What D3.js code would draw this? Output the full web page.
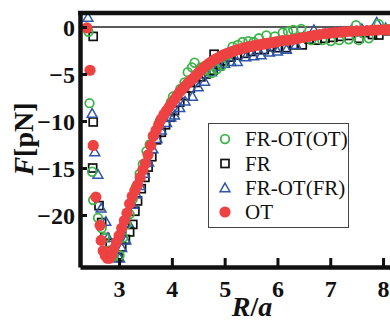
<!DOCTYPE html>
<html><head><meta charset="utf-8">
<script src="https://cdn.jsdelivr.net/npm/d3@7"></script>
<style>body{margin:0;background:#fff}svg{display:block}
svg text{font-family:"Liberation Serif","Times New Roman",serif;}
</style>
</head><body>
<svg id="c" width="390" height="322"></svg>
<script>
// ---- data ----
const seriesNames = ["FR-OT(OT)", "FR", "FR-OT(FR)", "OT"];
const xTicks = [3, 4, 5, 6, 7, 8];
const yTicks = [0, -5, -10, -15, -20];

// FR-OT(OT): [R/a, F]
const frotOT = [[2.42,-0.5],[2.44,-8.1],[2.49,-15.4],[2.51,-18.4],[2.60,-20.3],[2.67,-21.4],[2.73,-22.4],[2.80,-23.8],[2.90,-24.4],[3.01,-24.3],
[3.08,-22.4],[3.14,-21.0],[3.20,-19.9],[3.26,-18.3],[3.32,-17.0],[3.39,-15.6],[3.45,-14.6],[3.52,-13.2],[3.58,-12.5],[3.64,-11.6],[3.70,-11.0],[3.77,-10.0],[3.84,-9.5],[3.92,-8.8],[3.98,-8.0],[4.02,-7.4],[4.10,-7.2],[4.16,-6.6],[4.24,-5.9],[4.30,-4.8],[4.38,-4.3],[4.43,-3.8],
[4.55,-4.3],[4.65,-4.6],[4.75,-4.9],[4.85,-4.5],[4.95,-4.1],[5.05,-3.0],[5.15,-2.1],[5.25,-1.9],[5.34,-1.6],[5.45,-1.5],[5.55,-1.6],[5.65,-1.2],[5.79,-0.9],[5.95,-1.0],[6.10,-0.6],[6.20,-0.5],[6.30,-0.3],[6.45,-0.2],[6.64,-1.4],[6.85,-1.4],[7.01,-1.5],[7.17,-1.4],[7.35,-1.3],[7.49,0.2],[7.54,-1.4],[7.73,-1.2],[7.92,0.3],[8.05,-0.2]];

// FR: [R/a, F]
const fr = [[2.51,-1.0],[2.51,-10.1],[2.50,-15.0],[2.62,-19.0],[2.67,-20.8],[2.73,-22.4],[2.83,-23.0],[2.90,-24.0],
[2.98,-24.5],[3.05,-23.4],[3.12,-22.6],[3.20,-21.8],[3.26,-21.0],[3.30,-19.6],[3.35,-18.5],[3.42,-17.2],[3.49,-16.0],[3.55,-14.9],[3.62,-13.8],[3.71,-12.0],[3.80,-11.2],[3.88,-10.4],[3.97,-9.6],[4.05,-8.9],[4.15,-8.0],[4.25,-7.3],[4.35,-6.5],[4.45,-5.9],[4.55,-5.3],[4.65,-5.0],[4.80,-2.9],[4.78,-4.6],[4.90,-4.0],[5.00,-3.6],[5.12,-3.2],[5.24,-3.0],[5.38,-2.8],[5.50,-2.6],[5.62,-2.4],[5.75,-2.4],[5.88,-2.1],[6.00,-2.2],[6.17,-2.2],[6.30,-1.9],[6.47,-1.9],[6.60,-1.3],[6.75,-1.4],[6.90,-1.2],[7.05,-1.1],[7.20,-1.0],[7.35,-0.9],[7.54,-1.2],[7.65,-0.6],[7.80,-0.8],[7.92,-0.85],[8.10,-0.4]];

// FR-OT(FR): [R/a, F]
const frotFR = [[2.41,1.0],[2.49,-9.2],[2.54,-13.3],[2.60,-15.7],[2.66,-19.3],[2.75,-20.7],[2.79,-22.4],[2.88,-23.6],[3.01,-24.6],
[3.05,-23.5],[3.13,-22.7],[3.17,-20.8],[3.26,-18.9],[3.33,-17.8],[3.40,-16.9],[3.48,-15.6],[3.56,-14.4],[3.64,-13.0],[3.72,-11.9],[3.80,-11.0],[3.90,-10.2],[3.98,-9.6],[4.05,-9.4],[4.15,-8.6],[4.25,-7.9],[4.39,-7.4],[4.50,-6.4],[4.62,-5.8],[4.75,-4.8],[4.88,-4.2],[5.00,-3.9],[5.12,-3.7],[5.24,-3.7],[5.40,-3.2],[5.55,-3.1],[5.69,-3.0],[5.85,-2.7],[6.00,-2.6],[6.17,-2.4],[6.35,-1.9],[6.50,-1.0],[6.69,-0.3],[6.85,-0.8],[7.00,-0.6],[7.20,-0.5],[7.40,-0.3],[7.60,-0.2],[7.88,0.5],[8.05,-0.1]];

// OT: [R/a, F]
const ot = [[2.39,-0.1],[2.45,-4.6],[2.51,-12.6],[2.56,-18.1],[2.64,-21.1],[2.66,-22.7],[2.70,-23.8],[2.74,-24.3],[2.78,-24.6],[2.82,-24.6],[2.86,-24.2],
[2.90,-23.6],[2.95,-22.9],[3.00,-22.2],[3.05,-21.4],[3.10,-20.6],[3.15,-19.8],[3.20,-18.8],[3.25,-18.0],[3.30,-17.4],[3.35,-16.8],[3.40,-16.0],[3.45,-15.2],[3.50,-14.5],[3.55,-13.6],[3.60,-12.6],[3.65,-11.6],[3.70,-11.0],[3.75,-10.4],[3.80,-9.8],[3.85,-9.3],[3.90,-8.9],[3.95,-8.5],[4.00,-8.1],[4.05,-7.7],[4.10,-7.3],[4.15,-6.9],[4.20,-6.6],[4.25,-6.3],[4.30,-6.0],[4.35,-5.7],[4.40,-5.5],[4.45,-5.2],[4.50,-4.9],[4.55,-4.6],[4.60,-4.35],[4.65,-4.1],[4.70,-3.9],[4.75,-3.7],[4.80,-3.5],[4.85,-3.35],[4.90,-3.2],[4.95,-3.05],[5.00,-2.9],[5.05,-2.8],[5.10,-2.7],[5.15,-2.6],[5.20,-2.5],[5.25,-2.4],[5.30,-2.35],[5.35,-2.25],[5.40,-2.2],[5.45,-2.1],[5.50,-2.05],[5.55,-2.0],[5.60,-1.95],[5.65,-1.9],[5.70,-1.85],[5.75,-1.8],[5.80,-1.75],[5.85,-1.7],[5.90,-1.65],[5.95,-1.6],[6.00,-1.55],[6.10,-1.45],[6.20,-1.4],[6.30,-1.3],[6.40,-1.2],[6.50,-1.1],[6.60,-1.0],[6.70,-0.9],[6.80,-0.8],[6.90,-0.7],[7.00,-0.65],[7.10,-0.6],[7.20,-0.55],[7.30,-0.5],[7.40,-0.45],[7.50,-0.42],[7.60,-0.4],[7.70,-0.37],[7.80,-0.34],[7.90,-0.32],[8.00,-0.3],[8.10,-0.28]];

// ---- drawing ----
const svg = d3.select("#c");
const FONT = "Liberation Serif, Times New Roman, serif";
const x = d3.scaleLinear().domain([2.26, 8.2]).range([80, 393.6]);
const y = d3.scaleLinear().domain([-25.53, 1.49]).range([267, 13]);
const colors = {green:"#3db54a", blue:"#2e55a8", red:"#ee4242", black:"#111"};

svg.append("rect").attr("width",390).attr("height",322).attr("fill","#fff");

// zero line
svg.append("line").attr("x1",x(2.26)).attr("x2",x(8.2)).attr("y1",y(0)).attr("y2",y(0))
  .attr("stroke","#222").attr("stroke-width",1.3);

const g = svg.append("g");
function drawSquare(sel){ sel.append("rect").attr("x",d=>x(d[0])-4).attr("y",d=>y(d[1])-4).attr("width",8).attr("height",8)
  .attr("fill","none").attr("stroke",colors.black).attr("stroke-width",1.7); }
const tri = d3.symbol().type(d3.symbolTriangle).size(42);
function drawTri(sel){ sel.append("path").attr("d",tri).attr("transform",d=>`translate(${x(d[0])},${y(d[1])+0.8})`)
  .attr("fill","none").attr("stroke",colors.blue).attr("stroke-width",1.5); }
function drawCirc(sel){ sel.append("circle").attr("cx",d=>x(d[0])).attr("cy",d=>y(d[1])).attr("r",4.3)
  .attr("fill","none").attr("stroke",colors.green).attr("stroke-width",1.8); }
function drawDot(sel){ sel.append("circle").attr("cx",d=>x(d[0])).attr("cy",d=>y(d[1])).attr("r",5.6)
  .attr("fill",colors.red); }

drawSquare(g.append("g").selectAll("g").data(fr).join("g"));
drawTri(g.append("g").selectAll("g").data(frotFR).join("g"));
drawCirc(g.append("g").selectAll("g").data(frotOT).join("g"));
drawDot(g.append("g").selectAll("g").data(ot).join("g"));

// axes
const ax = svg.append("g").attr("transform","translate(80,0)")
  .call(d3.axisLeft(y).tickValues(yTicks).tickSizeInner(-7).tickSizeOuter(0).tickPadding(5).tickFormat(d3.format("d")));
ax.attr("font-family", null);
ax.select(".domain").attr("stroke","#111").attr("stroke-width",4.5);
ax.selectAll(".tick line").attr("stroke","#111").attr("stroke-width",3);
ax.selectAll(".tick text").style("font-family",FONT).style("font-weight","bold").style("font-size","24px").attr("fill","#111").attr("dy","0.34em");

const bx = svg.append("g").attr("transform","translate(0,267)")
  .call(d3.axisBottom(x).tickValues(xTicks).tickSizeInner(-9).tickSizeOuter(0).tickFormat(d3.format("d")));
bx.attr("font-family", null);
bx.select(".domain").attr("stroke","#111").attr("stroke-width",4.5);
bx.selectAll(".tick line").attr("stroke","#111").attr("stroke-width",3);
bx.selectAll(".tick text").style("font-family",FONT).style("font-weight","bold").style("font-size","24px").attr("fill","#111").attr("y",30).attr("dy","0");

// frame top / right
svg.append("line").attr("x1",78).attr("x2",396).attr("y1",13).attr("y2",13).attr("stroke","#111").attr("stroke-width",4.5);
svg.append("line").attr("x1",x(8.2)).attr("x2",x(8.2)).attr("y1",13).attr("y2",267).attr("stroke","#111").attr("stroke-width",4.5);

// axis titles
const yl = svg.append("text").attr("transform","translate(33,139) rotate(-90)").attr("text-anchor","middle")
  .style("font-family",FONT).style("font-weight","bold").style("font-size","28px").attr("fill","#111");
yl.append("tspan").style("font-style","italic").text("F");
yl.append("tspan").text("[pN]");

const xl = svg.append("text").attr("x",252).attr("y",316).attr("text-anchor","middle")
  .style("font-family",FONT).style("font-weight","bold").style("font-size","28px").attr("fill","#111");
xl.append("tspan").style("font-style","italic").text("R");
xl.append("tspan").text("/");
xl.append("tspan").style("font-style","italic").text("a");

// legend
const lg = svg.append("g");
lg.append("rect").attr("x",208.5).attr("y",123.5).attr("width",140).attr("height",104)
  .attr("fill","#fff").attr("stroke","#444").attr("stroke-width",1);
const lgY = [139, 163.5, 188, 212];
const lgDraw = [drawCirc, drawSquare, drawTri, drawDot];
seriesNames.forEach((name,i)=>{
  const d = [[x.invert(225), y.invert(lgY[i])]];
  lgDraw[i](lg.append("g").selectAll("g").data(d).join("g"));
  lg.append("text").attr("x",245).attr("y",lgY[i]).attr("dy","0.35em")
    .style("font-family",FONT).style("font-size","21px").attr("fill","#111").text(name);
});
</script>
</body></html>
